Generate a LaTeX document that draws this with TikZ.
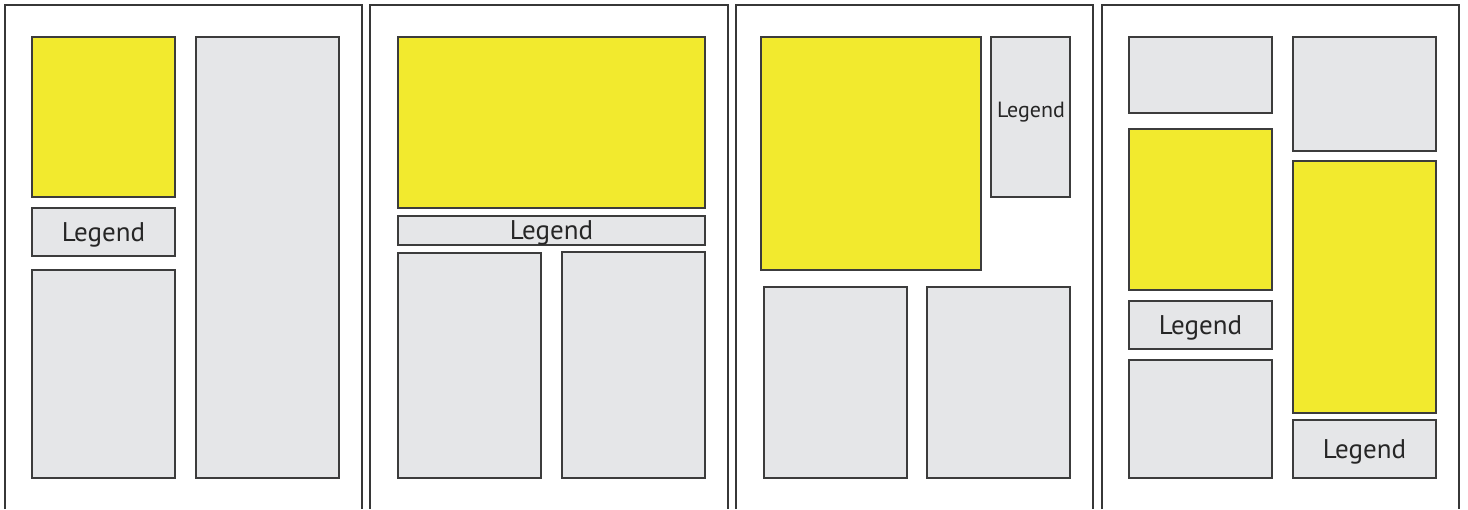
\documentclass[tikz,border=0pt]{standalone}
\usepackage{fontspec}
\setmainfont{PT Sans}
\definecolor{boxgray}{RGB}{229,230,232}
\definecolor{boxyellow}{RGB}{242,234,46}
\definecolor{framegray}{RGB}{55,55,55}
\definecolor{edgegray}{RGB}{60,60,60}
\begin{document}
\begin{tikzpicture}[x=1pt,y=-1pt,
  frame/.style={draw=framegray,line width=1.5pt},
  base/.style={draw=edgegray,line width=1.2pt,anchor=north west,inner sep=0pt,outer sep=0pt,text depth=0pt,text=black!85},
  gbox/.style={base,fill=boxgray},
  ybox/.style={base,fill=boxyellow},
  big/.style={font=\fontsize{27}{30}\selectfont},
  small/.style={font=\fontsize{22}{26}\selectfont}]
\useasboundingbox (0,0) rectangle (1468,509);
% frames
\coordinate (f1a) at (5,509); \coordinate (f1b) at (5,5); \coordinate (f1c) at (362,5); \coordinate (f1d) at (362,509);
\coordinate (f2a) at (370,509); \coordinate (f2b) at (370,5); \coordinate (f2c) at (728,5); \coordinate (f2d) at (728,509);
\coordinate (f3a) at (736,509); \coordinate (f3b) at (736,5); \coordinate (f3c) at (1093,5); \coordinate (f3d) at (1093,509);
\coordinate (f4a) at (1102,509); \coordinate (f4b) at (1102,5); \coordinate (f4c) at (1459,5); \coordinate (f4d) at (1459,509);
\draw[frame] (f1a) -- (f1b) -- (f1c) -- (f1d);
\draw[frame] (f2a) -- (f2b) -- (f2c) -- (f2d);
\draw[frame] (f3a) -- (f3b) -- (f3c) -- (f3d);
\draw[frame] (f4a) -- (f4b) -- (f4c) -- (f4d);
% panel 1
\node[ybox,minimum width=143pt,minimum height=160pt] (p1y) at (32,37) {};
\node[gbox,big,minimum width=143pt,minimum height=48pt] (p1l) at (32,208) {Legend};
\node[gbox,minimum width=143pt,minimum height=208pt] (p1b) at (32,270) {};
\node[gbox,minimum width=143pt,minimum height=441pt] (p1t) at (196,37) {};
% panel 2
\node[ybox,minimum width=307pt,minimum height=171pt] (p2y) at (398,37) {};
\node[gbox,big,minimum width=307pt,minimum height=29pt] (p2l) at (398,216) {Legend};
\node[gbox,minimum width=143pt,minimum height=225pt] (p2a) at (398,253) {};
\node[gbox,minimum width=143pt,minimum height=226pt] (p2b) at (562,252) {};
% panel 3
\node[ybox,minimum width=220pt,minimum height=233pt] (p3y) at (761,37) {};
\node[gbox,minimum width=79pt,minimum height=160pt] (p3l) at (991,37) {};
\node[small,inner sep=0pt,text depth=0pt,text=black!85] (p3t) at (1031,110) {Legend};
\node[gbox,minimum width=143pt,minimum height=191pt] (p3a) at (764,287) {};
\node[gbox,minimum width=143pt,minimum height=191pt] (p3b) at (927,287) {};
% panel 4
\node[gbox,minimum width=143pt,minimum height=76pt] (p4a) at (1129,37) {};
\node[gbox,minimum width=143pt,minimum height=114pt] (p4b) at (1293,37) {};
\node[ybox,minimum width=143pt,minimum height=161pt] (p4y) at (1129,129) {};
\node[gbox,big,minimum width=143pt,minimum height=48pt] (p4l) at (1129,301) {Legend};
\node[gbox,minimum width=143pt,minimum height=118pt] (p4c) at (1129,360) {};
\node[ybox,minimum width=143pt,minimum height=252pt] (p4z) at (1293,161) {};
\node[gbox,big,minimum width=143pt,minimum height=58pt] (p4m) at (1293,420) {Legend};
\end{tikzpicture}
\end{document}
